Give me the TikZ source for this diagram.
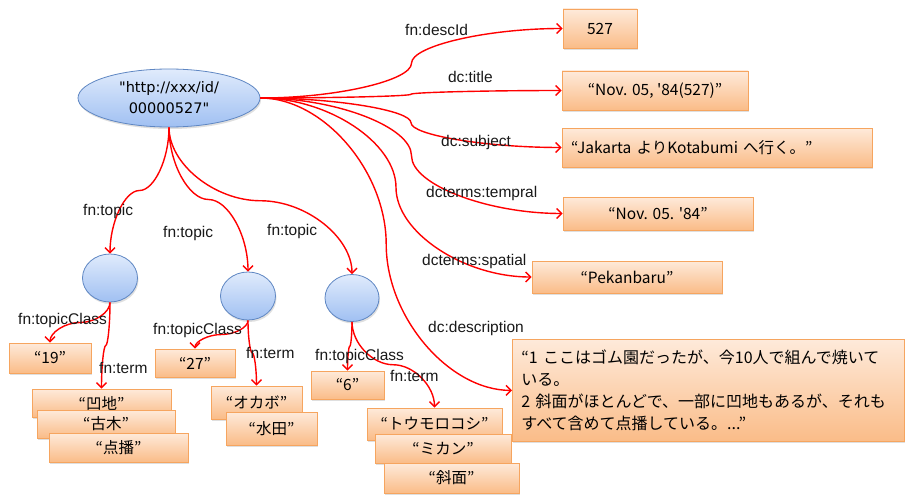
\documentclass[tikz,border=0pt]{standalone}
\usepackage{fontspec}
\setmainfont{Liberation Sans}
\newfontfamily\jp{Noto Sans CJK JP}[Ligatures=TeXOff]
\newfontfamily\dv{DejaVu Sans}[Ligatures=TeXOff]
\usetikzlibrary{shapes.geometric,arrows.meta,shadows,shadings,calc}
\definecolor{boxtop}{RGB}{254,234,218}
\definecolor{boxbot}{RGB}{250,188,136}
\definecolor{boxline}{RGB}{246,165,95}
\definecolor{elltop}{RGB}{224,235,252}
\definecolor{ellbot}{RGB}{160,192,242}
\definecolor{ellline}{RGB}{95,135,195}
\tikzset{
  valbox/.style={rectangle, draw=boxline, line width=0.8pt, top color=boxtop, bottom color=boxbot,
    drop shadow={opacity=0.25, shadow xshift=1pt, shadow yshift=-2pt},
    inner sep=0pt, font=\jp\fontsize{15.5}{22}\selectfont, text=black},
  resnode/.style={ellipse, draw=ellline, line width=0.8pt, top color=elltop, bottom color=ellbot,
    drop shadow={opacity=0.25, shadow xshift=1pt, shadow yshift=-2pt}, inner sep=0pt},
  conn/.style={draw=red, line width=1.4pt, -{Straight Barb[length=5pt,width=10pt]}},
  lbl/.style={font=\fontsize{15.5}{18}\selectfont, text={rgb,255:red,25;green,25;blue,25}, inner sep=0pt, anchor=west},
}
\newcommand\hconn[2]{%
  \draw[conn] let \p1=(#1), \p2=(#2) in (\p1)
   .. controls ({0.75*\x1+0.25*\x2},\y1) and ({0.5*\x1+0.5*\x2},{0.75*\y1+0.25*\y2})
   .. ({0.5*\x1+0.5*\x2},{0.5*\y1+0.5*\y2})
   .. controls ({0.5*\x1+0.5*\x2},{0.25*\y1+0.75*\y2}) and ({0.25*\x1+0.75*\x2},\y2)
   .. (\p2);}
\newcommand\vconn[2]{%
  \draw[conn] let \p1=(#1), \p2=(#2) in (\p1)
   .. controls (\x1,{0.75*\y1+0.25*\y2}) and ({0.75*\x1+0.25*\x2},{0.5*\y1+0.5*\y2})
   .. ({0.5*\x1+0.5*\x2},{0.5*\y1+0.5*\y2})
   .. controls ({0.25*\x1+0.75*\x2},{0.5*\y1+0.5*\y2}) and (\x2,{0.25*\y1+0.75*\y2})
   .. (\p2);}
\begin{document}
\begin{tikzpicture}[x=1pt,y=-1pt]
\useasboundingbox (0,0) rectangle (905,495);
\fill[white] (0,0) rectangle (905,495);

% main resource
\node[resnode, minimum width=182pt, minimum height=58pt, align=center,
  font=\dv\fontsize{14.5}{21}\selectfont] (main) at (169,98) {"http://xxx/id/\\00000527"};

% right-hand values
\node[valbox, minimum width=74pt, minimum height=39pt] (v527) at (600,28.5) {527};
\node[valbox, minimum width=186pt, minimum height=39pt] (vtitle) at (655,90.5) {“Nov. 05, '84(527)”};
\node[valbox, minimum width=310pt, minimum height=39pt, text width=292pt, align=left] (vsubj) at (717,147.5) {“Jakarta よりKotabumi へ行く。”};
\node[valbox, minimum width=190pt, minimum height=33pt] (vtemp) at (658,213.5) {“Nov. 05. '84”};
\node[valbox, minimum width=190pt, minimum height=32pt] (vspat) at (627,277) {“Pekanbaru”};
\node[valbox, minimum width=392pt, minimum height=102pt, text width=374pt, align=left, anchor=north west,
  font=\jp\fontsize{16}{22}\selectfont] (vdesc) at (512,339)
 {“1 ここはゴム園だったが、今10人で組んで焼いて\\いる。\\2 斜面がほとんどで、一部に凹地もあるが、それも\\すべて含めて点播している。...”};

% topic blank nodes
\node[resnode, minimum width=55pt, minimum height=48pt] (t1) at (110,278) {};
\node[resnode, minimum width=55pt, minimum height=48pt] (t2) at (248,296) {};
\node[resnode, minimum width=54pt, minimum height=47pt] (t3) at (352,298) {};

% topic values
\node[valbox, minimum width=82pt, minimum height=30pt] (v19) at (50,358) {“19”};
\node[valbox, minimum width=80pt, minimum height=28pt] (v27) at (195,363) {“27”};
\node[valbox, minimum width=73pt, minimum height=28pt] (v6) at (347.5,385) {“6”};
\node[valbox, minimum width=139pt, minimum height=28pt] (vouchi) at (101.5,403) {“凹地”};
\node[valbox, minimum width=138pt, minimum height=28pt] (vkoboku) at (106,424) {“古木”};
\node[valbox, minimum width=139pt, minimum height=29pt] (vtenpa) at (118.5,447.5) {“点播”};
\node[valbox, minimum width=91pt, minimum height=33pt] (vokabo) at (256.5,402.5) {“オカボ”};
\node[valbox, minimum width=91pt, minimum height=33pt] (vsuiden) at (271.5,428.5) {“水田”};
\node[valbox, minimum width=135pt, minimum height=32pt] (vtoumo) at (434.5,424) {“トウモロコシ”};
\node[valbox, minimum width=136pt, minimum height=29pt] (vmikan) at (443,448.5) {“ミカン”};
\node[valbox, minimum width=135pt, minimum height=30pt] (vshamen) at (451.5,478) {“斜面”};

% connectors
\hconn{main.east}{v527.west}
\hconn{main.east}{vtitle.west}
\hconn{main.east}{vsubj.west}
\hconn{main.east}{vtemp.west}
\hconn{main.east}{vspat.west}
\hconn{main.east}{vdesc.west}
\vconn{main.south}{t1.north}
\vconn{main.south}{t2.north}
\vconn{main.south}{t3.north}
\vconn{t1.south}{v19.north}
\vconn{t1.south}{vouchi.north}
\vconn{t2.south}{v27.north}
\vconn{t2.south}{vokabo.north}
\vconn{t3.south}{v6.north}
\vconn{t3.south}{vtoumo.north}

% labels
\node[lbl] (ldesc) at (405,30) {fn:descId};
\node[lbl, anchor=east] (ltitle) at (493,77) {dc:title};
\node[lbl] (lsubj) at (441,142) {dc:subject};
\node[lbl] (ltemp) at (426,193) {dcterms:tempral};
\node[lbl] (lspat) at (422,261) {dcterms:spatial};
\node[lbl] (ldescr) at (428,328) {dc:description};
\node[lbl] (ltop1) at (83,211) {fn:topic};
\node[lbl] (ltop2) at (163,233) {fn:topic};
\node[lbl] (ltop3) at (267,231) {fn:topic};
\node[lbl] (lcls1) at (18,320) {fn:topicClass};
\node[lbl] (lcls2) at (153,330) {fn:topicClass};
\node[lbl] (lcls3) at (315,356) {fn:topicClass};
\node[lbl] (lterm1) at (99,368) {fn:term};
\node[lbl] (lterm2) at (246,353) {fn:term};
\node[lbl] (lterm3) at (390,376) {fn:term};
\end{tikzpicture}
\end{document}
